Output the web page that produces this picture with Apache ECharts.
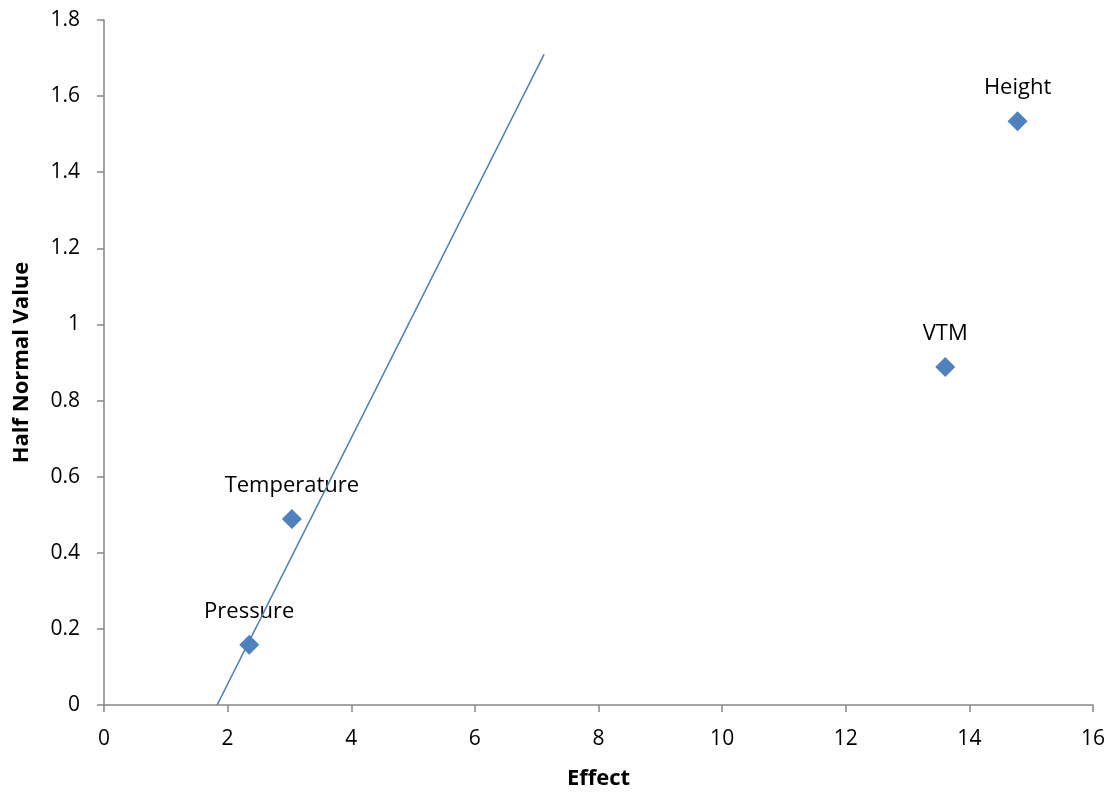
<!DOCTYPE html>
<html>
<head>
<meta charset="utf-8">
<script src="https://cdn.jsdelivr.net/npm/echarts@6/dist/echarts.min.js"></script>
<style>
  html, body { margin: 0; padding: 0; background: #fff; }
  #chart { width: 1117px; height: 792px; }
</style>
</head>
<body>
<div id="chart"></div>
<script>
// effects and their half normal values
const names = ['Pressure', 'Temperature', 'VTM', 'Height'];
const effects = [2.35, 3.04, 13.61, 14.78];
const halfNormal = [0.158, 0.489, 0.888, 1.534];
// reference line end points
const lineX = [1.83, 7.12];
const lineY = [0, 1.71];

var chartDom = document.getElementById('chart');
var myChart = echarts.init(chartDom);

const axisFont = 'Open Sans, sans-serif';
const axisGray = '#868686';

var option = {
    animation: false,
    grid: {
        left: 104,
        right: 24,
        top: 20,
        bottom: 87,
        outerBoundsMode: 'none'
    },
    xAxis: {
        type: 'value',
        min: 0,
        max: 16,
        interval: 2,
        name: 'Effect',
        nameLocation: 'middle',
        nameGap: 63,
        nameTextStyle: { fontFamily: axisFont, fontSize: 22, fontWeight: 'bold', color: '#000' },
        axisLine: { lineStyle: { color: axisGray, width: 1.5 } },
        axisTick: { show: true, length: 7, lineStyle: { color: axisGray, width: 1.5 } },
        axisLabel: { fontFamily: axisFont, fontSize: 21, color: '#000', margin: 24 },
        splitLine: { show: false }
    },
    yAxis: {
        type: 'value',
        min: 0,
        max: 1.8,
        interval: 0.2,
        name: 'Half Normal Value',
        nameLocation: 'middle',
        nameGap: 71,
        nameTextStyle: { fontFamily: axisFont, fontSize: 22, fontWeight: 'bold', color: '#000' },
        axisLine: { show: true, lineStyle: { color: axisGray, width: 1.5 } },
        axisTick: { show: true, length: 7, lineStyle: { color: axisGray, width: 1.5 } },
        axisLabel: {
            fontFamily: axisFont, fontSize: 21, color: '#000', margin: 24,
            formatter: v => String(Math.round(v * 10) / 10)
        },
        splitLine: { show: false }
    },
    series: [
        {
            type: 'line',
            data: lineX.map((x, i) => [x, lineY[i]]),
            showSymbol: false,
            lineStyle: { color: '#4a7ebb', width: 1.6 },
            silent: true
        },
        {
            type: 'scatter',
            symbol: 'diamond',
            symbolSize: [20, 20],
            itemStyle: { color: '#4f81bd', opacity: 1 },
            data: effects.map((x, i) => ({ value: [x, halfNormal[i]], name: names[i] })),
            label: {
                show: true,
                position: 'top',
                distance: 12,
                formatter: p => p.name,
                fontFamily: axisFont,
                fontSize: 22,
                color: '#000'
            }
        }
    ]
};
myChart.setOption(option);
</script>
</body>
</html>
